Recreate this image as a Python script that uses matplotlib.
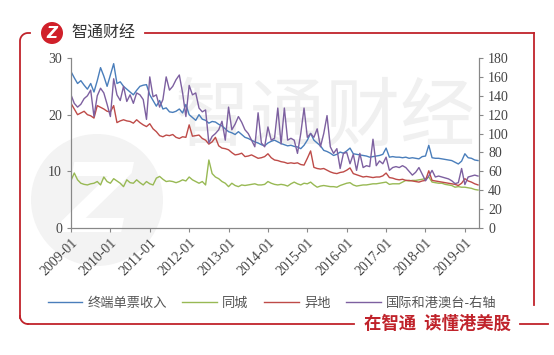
import numpy as np
import matplotlib
matplotlib.use('Agg')
import matplotlib.pyplot as plt
from matplotlib.lines import Line2D
from matplotlib.patches import Circle

plt.rcParams['font.family'] = ['Noto Sans CJK SC', 'DejaVu Sans']

# monthly data, 2009-01 .. 2019-05
months = np.arange(125)
year_labels = ['2009-01', '2010-01', '2011-01', '2012-01', '2013-01', '2014-01',
               '2015-01', '2016-01', '2017-01', '2018-01', '2019-01']

# 终端单票收入 (left axis)
terminal = [27.6, 26.5, 25.5, 26.0, 25.2, 24.5, 25.5, 24.0, 26.0, 28.3, 26.8, 25.0,
            27.0, 29.0, 25.5, 25.8, 25.0, 24.5, 24.0, 23.5, 24.3, 25.0, 25.2, 25.3,
            23.5, 22.5, 21.5, 22.5, 21.0, 21.2, 20.5, 20.4, 20.6, 21.0, 20.3, 21.8,
            20.0, 19.5, 19.0, 20.0, 19.2, 19.0, 18.5, 18.8, 18.7, 18.3, 18.0, 17.5,
            17.0, 16.8, 16.5, 17.0, 16.5, 16.0, 15.8, 15.5, 15.2, 15.0, 14.7, 14.5,
            15.0, 15.3, 15.5, 15.2, 14.9, 14.7, 14.5, 14.6, 14.4, 14.3, 14.0, 14.6,
            15.5, 16.7, 15.5, 15.0, 14.5, 13.7, 13.5, 13.2, 12.8, 13.0, 13.4, 13.2,
            13.6, 14.1, 13.1, 13.0, 12.9, 12.8, 12.7, 12.5, 12.6, 12.7, 12.8, 13.0,
            14.1, 12.5, 12.6, 12.5, 12.5, 12.4, 12.5, 12.3, 12.4, 12.3, 12.2, 12.6,
            12.7, 14.6, 12.4, 12.3, 12.3, 12.2, 12.1, 12.0, 11.9, 11.6, 11.3, 11.8,
            13.1, 12.4, 12.3, 12.0, 11.9]

# 同城 (left axis)
local = [8.4, 9.7, 8.5, 7.9, 7.7, 7.6, 7.8, 7.9, 8.2, 7.6, 9.0, 8.2,
         7.9, 8.7, 8.3, 7.9, 7.3, 8.5, 8.0, 7.9, 8.5, 8.0, 7.6, 8.2,
         7.8, 7.6, 8.8, 9.1, 8.6, 8.2, 8.3, 8.2, 8.0, 8.2, 8.5, 8.3,
         9.0, 8.5, 8.2, 7.9, 8.2, 7.6, 12.0, 9.6, 9.0, 8.7, 8.2, 7.9,
         7.3, 7.9, 7.5, 7.3, 7.6, 7.5, 7.6, 7.7, 7.8, 7.6, 7.6, 7.7,
         8.2, 7.9, 7.7, 7.6, 7.7, 7.6, 7.4, 7.8, 8.1, 7.8, 7.6, 7.9,
         7.8, 8.1, 7.6, 7.2, 7.4, 7.5, 7.4, 7.3, 7.3, 7.2, 7.5, 7.7,
         7.9, 8.0, 7.6, 7.4, 7.5, 7.6, 7.6, 7.7, 7.8, 7.8, 7.9, 8.0,
         8.1, 7.7, 7.8, 7.8, 7.8, 8.1, 8.4, 8.3, 8.4, 8.4, 8.5, 8.6,
         8.7, 9.0, 8.1, 8.0, 7.9, 7.9, 7.7, 7.6, 7.5, 7.2, 7.3, 7.2,
         7.2, 7.1, 7.0, 6.8, 6.7]

# 异地 (left axis)
remote = [22.0, 21.0, 20.0, 20.3, 20.6, 20.0, 19.8, 19.4, 21.6, 21.3, 21.0, 20.6,
          20.5, 21.6, 18.6, 18.9, 19.1, 18.9, 18.8, 18.5, 19.1, 18.6, 18.2, 17.9,
          18.4, 17.5, 17.0, 16.3, 16.1, 16.4, 16.3, 16.5, 16.0, 15.8, 16.1, 16.0,
          18.2, 16.2, 16.3, 16.4, 15.8, 15.5, 14.8, 15.2, 16.0, 14.5, 14.1, 14.0,
          13.8, 13.3, 12.9, 13.0, 13.2, 12.6, 12.7, 12.9, 12.6, 12.3, 12.4, 12.6,
          13.1, 12.4, 12.0, 11.9, 11.7, 11.6, 11.4, 11.5, 11.4, 11.5, 11.2, 11.1,
          12.3, 13.6, 10.7, 10.5, 10.4, 10.5, 10.2, 9.9, 9.7, 9.6, 9.8, 9.9,
          10.2, 10.6, 9.6, 9.4, 9.2, 9.0, 9.1, 9.0, 8.9, 9.0, 9.0, 9.2,
          9.7, 8.9, 8.8, 8.6, 8.5, 8.6, 8.4, 8.4, 8.3, 8.2, 8.1, 8.3,
          8.4, 10.1, 8.4, 8.3, 8.2, 8.1, 8.0, 7.9, 7.8, 7.7, 7.5, 7.9,
          8.7, 8.3, 8.1, 7.8, 7.6]

# 国际和港澳台 (right axis)
intl = [141, 132, 128, 131, 137, 140, 146, 118, 140, 148, 143, 131,
        118, 158, 141, 135, 150, 134, 141, 132, 143, 141, 136, 115,
        160, 139, 141, 128, 136, 160, 146, 150, 157, 162, 143, 118,
        151, 141, 143, 127, 123, 125, 90, 97, 100, 104, 113, 93,
        128, 104, 110, 118, 112, 104, 100, 93, 86, 122, 90, 86,
        107, 93, 95, 127, 89, 127, 93, 95, 93, 79, 100, 127,
        96, 100, 96, 105, 86, 100, 119, 86, 79, 84, 63, 79,
        80, 68, 78, 61, 79, 64, 66, 65, 94, 66, 71, 68,
        75, 61, 64, 65, 64, 66, 64, 60, 56, 59, 64, 57,
        50, 55, 61, 54, 55, 54, 53, 52, 50, 47, 48, 63,
        46, 54, 55, 56, 55]

c_blue = '#4a7ebb'
c_green = '#98b954'
c_red = '#be4b48'
c_purple = '#7d60a0'
c_frame = '#c0232b'

W, H = 554, 355
fig = plt.figure(figsize=(W / 100, H / 100), dpi=100)
fig.patch.set_facecolor('white')

# background layer in pixel coords: frame, logo, watermark
bg = fig.add_axes([0, 0, 1, 1])
bg.set_xlim(0, W)
bg.set_ylim(H, 0)
bg.axis('off')

# watermark
bg.add_patch(Circle((97, 200), 66, color='#f3f3f3', lw=0, zorder=0))
bg.text(97, 205, 'Z', color='white', fontsize=70, fontweight='bold', style='italic',
        ha='center', va='center', family='DejaVu Sans', zorder=0)
bg.text(325, 118, '智通财经', color='#f0f0f0', fontsize=54, ha='center', va='center', zorder=0)

# frame
t = np.linspace(np.pi, 1.5 * np.pi, 20)
r = 8
fx = list(20 + r + r * np.cos(t))
fy = list(33 + r + r * np.sin(t))
bg.plot([20] + [20] + fx + [30], [318] + [33 + r] + fy + [33], color=c_frame, lw=1.3)
t2 = np.linspace(0.5 * np.pi, np.pi, 20)
bg.plot(20 + r + r * np.cos(t2), 324 - r + r * np.sin(t2), color=c_frame, lw=1.3)
bg.plot([145, 534], [33, 33], color=c_frame, lw=1.3)
bg.plot([534, 534], [33, 305], color=c_frame, lw=1.3)
bg.plot([20 + r, 354], [324, 324], color=c_frame, lw=1.3)
bg.plot([520, 548], [324, 324], color=c_frame, lw=1.3)
bg.text(437, 324, '在智通  读懂港美股', color=c_frame, fontsize=12.5, fontweight='bold',
        ha='center', va='center')

# logo
bg.add_patch(Circle((52, 33), 11, color='#d0202a', lw=0))
bg.text(52, 33.5, 'Z', color='white', fontsize=11, fontweight='bold', style='italic',
        ha='center', va='center', family='DejaVu Sans')
bg.text(71, 33, '智通财经', color='#333333', fontsize=11.5, ha='left', va='center')

# chart
ax = fig.add_axes([71 / W, 1 - 228 / H, (479 - 71) / W, (228 - 58) / H])
ax.set_facecolor('none')
ax2 = ax.twinx()

lw = 1.0
ax.plot(months, terminal, color=c_blue, lw=lw)
ax.plot(months, local, color=c_green, lw=lw)
ax.plot(months, remote, color=c_red, lw=lw)
ax2.plot(months, intl, color=c_purple, lw=lw)

ax.set_xlim(0, 124.3)
ax.set_ylim(0, 30)
ax.set_yticks([0, 10, 20, 30])
ax2.set_ylim(0, 180)
ax2.set_yticks(range(0, 181, 20))
ax.set_xticks(np.arange(0, 121, 12))
ax.set_xticklabels(year_labels, rotation=45, ha='right', va='top', rotation_mode='anchor')

for a in (ax, ax2):
    a.spines['top'].set_visible(False)
    for s in a.spines.values():
        s.set_color('#888888')
        s.set_linewidth(0.8)
    a.tick_params(direction='out', length=3, width=0.8, color='#888888',
                  labelcolor='#444444', labelsize=10)
    for lab in a.get_yticklabels() + a.get_xticklabels():
        lab.set_family('Liberation Serif')
ax.tick_params(axis='x', labelsize=10, pad=3)

handles = [Line2D([], [], color=c_blue, lw=lw),
           Line2D([], [], color=c_green, lw=lw),
           Line2D([], [], color=c_red, lw=lw),
           Line2D([], [], color=c_purple, lw=lw)]
names = ['终端单票收入', '同城', '异地', '国际和港澳台-右轴']
fig.legend(handles, names, loc='center', bbox_to_anchor=(272 / W, 1 - 303 / H), ncol=4,
           frameon=False, fontsize=9.5, handlelength=2.6, handletextpad=0.4,
           columnspacing=1.2, labelcolor='#555555')

fig.savefig('out.png', dpi=100, facecolor='white')
